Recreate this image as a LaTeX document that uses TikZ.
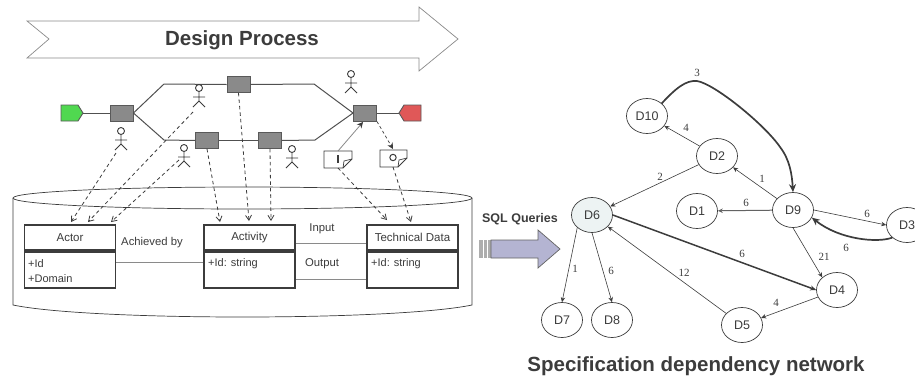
\documentclass[tikz,border=0pt]{standalone}
\usepackage{fontspec}
\setmainfont{Liberation Sans}
\newfontfamily\numfont{Liberation Serif}
\usetikzlibrary{shapes.geometric,arrows.meta}
\definecolor{ink}{HTML}{3C3C3C}
\definecolor{soft}{HTML}{8A8A8A}
\definecolor{startc}{HTML}{50D850}
\definecolor{endc}{HTML}{E05858}
\definecolor{sqlc}{HTML}{B4B4D2}
\definecolor{dsix}{HTML}{EDF3F3}
\tikzset{
  task/.style={draw=ink!85,fill=soft,line width=.9pt,minimum width=23pt,minimum height=16pt,inner sep=0pt},
  flow/.style={draw=ink!90,line width=1pt},
  dep/.style={draw=ink,line width=.8pt,dashed,dash pattern=on 3.5pt off 3pt,-{Straight Barb[length=5pt,width=6pt]}},
  umlhead/.style={draw=ink,line width=1.7pt,fill=white,minimum width=91pt,minimum height=24.5pt,inner sep=0pt,font=\fontsize{11.5}{13}\selectfont,text=ink},
  umlbody/.style={draw=ink,line width=1.7pt,fill=white,minimum width=91pt,minimum height=36pt,inner sep=0pt},
  umltext/.style={anchor=west,inner sep=0pt,font=\fontsize{11}{13}\selectfont,text=ink},
  assoc/.style={draw=soft,line width=1pt},
  lab/.style={inner sep=0pt,font=\fontsize{11.3}{13}\selectfont,text=ink},
  dn/.style={draw=ink,line width=.7pt,fill=white,shape=ellipse,minimum width=41pt,minimum height=35pt,inner sep=0pt,font=\fontsize{12.5}{14}\selectfont,text=ink},
  edge/.style={draw=ink,line width=.6pt,-{Stealth[length=5pt,width=4.5pt]}},
  heavy/.style={draw=ink,line width=1.7pt,-{Stealth[length=8pt,width=7pt]}},
  num/.style={inner sep=0pt,font=\numfont\fontsize{11}{13}\selectfont,text=ink},
  actorline/.style={draw=ink,line width=.9pt}
}
\newcommand{\actorfig}[2]{%
  \draw[actorline] (#1,#2) circle (3.5pt);
  \draw[actorline] (#1,#2+3.5) -- (#1,#2+13) (#1-6,#2+9) -- (#1+6,#2+9)
    (#1-6,#2+19) -- (#1,#2+13) -- (#1+6,#2+19);
}
\begin{document}
\begin{tikzpicture}[x=1pt,y=-1pt]
\useasboundingbox (0,0) rectangle (915,378);
% banner
\draw[draw=soft,line width=.7pt,fill=white] (27,21) -- (419,21) -- (419,7) -- (458,39) -- (419,71) -- (419,58) -- (27,58) -- (49,39) -- cycle;
\node[inner sep=0pt,font=\bfseries\fontsize{20.5}{24}\selectfont,text=ink] (designtitle) at (242,40) {Design Process};
% cylinder
\draw[draw=ink,line width=.7pt,fill=white] (13,198) -- (13,305) .. controls (90,321) and (395,321) .. (472,305) -- (472,198);
\draw[draw=ink,line width=.7pt,fill=white] (242.5,198) ellipse (229.5pt and 11pt);
% process
\node[inner sep=0pt,minimum width=22pt,minimum height=16pt] (startn) at (72,113) {};
\draw[draw=ink!85,fill=startc,line width=.9pt] (61,105) -- (78,105) -- (83,113) -- (78,121) -- (61,121) -- cycle;
\node[inner sep=0pt,minimum width=22pt,minimum height=16pt] (endn) at (410,113) {};
\draw[draw=ink!85,fill=endc,line width=.9pt] (421,105) -- (404,105) -- (399,113) -- (404,121) -- (421,121) -- cycle;
\node[task] (t1) at (121.5,113) {};
\node[task] (t2) at (238.5,84.5) {};
\node[task] (t3) at (207,140.5) {};
\node[task] (t4) at (270,140.5) {};
\node[task] (t5) at (365,113) {};
\coordinate (ua) at (164,84); \coordinate (ub) at (314,84);
\coordinate (la) at (164,140); \coordinate (lb) at (315,140);
\draw[flow] (startn.east) -- (t1.west);
\draw[flow] (t1.east) -- (ua) -- (t2.west);
\draw[flow] (t2.east) -- (ub) -- (t5.west);
\draw[flow] (t1.east) -- (la) -- (t3.west);
\draw[flow] (t3.east) -- (t4.west);
\draw[flow] (t4.east) -- (lb) -- (t5.west);
\draw[flow] (t5.east) -- (endn.west);
% actors
\actorfig{121}{131}
\actorfig{199}{88}
\actorfig{184}{148}
\actorfig{292}{149}
\actorfig{351}{74}
\coordinate (a1) at (116,153); \coordinate (a2) at (193,112); \coordinate (a3) at (179,160);
% documents
\draw[draw=ink,line width=.9pt,fill=white] (324,151) -- (352,151) -- (352,159) -- (343,168) -- (324,168) -- cycle;
\draw[draw=ink,line width=.7pt] (352,159) -- (344,161) -- (343,168);
\fill[fill=ink] (336.5,155) rectangle (338.5,163);
\coordinate (docia) at (338,151); \coordinate (docib) at (338,168);
\draw[draw=ink,line width=.9pt,fill=white] (380,150) -- (407,150) -- (407,158) -- (398,167) -- (380,167) -- cycle;
\draw[draw=ink,line width=.7pt] (407,158) -- (399,160) -- (398,167);
\draw[draw=ink,line width=1pt] (393,157.5) circle (3.2pt);
\coordinate (docoa) at (393,149); \coordinate (docob) at (393,167);
\coordinate (t5in) at (363,122);
\draw[draw=soft,line width=.8pt,-{Stealth[length=6pt,width=6pt,color=ink]}] (docia) -- (t5in);
\draw[draw=ink,line width=.7pt,dashed,dash pattern=on 3pt off 2.5pt,-{Stealth[length=6pt,width=6pt]}] (t5.south east) -- (docoa);
% uml
\node[umlbody] (actorB) at (70,270) {};
\node[umlhead] (actorT) at (70,237.5) {Actor};
\node[umlbody] (actvB) at (249.5,270) {};
\node[umlhead] (actvT) at (249.5,237.5) {Activity};
\node[umlbody] (techB) at (412.5,270) {};
\node[umlhead] (techT) at (412.5,237.5) {Technical Data};
\node[umltext] (f1) at (28,263.5) {+Id};
\node[umltext] (f2) at (28,279) {+Domain};
\node[umltext] (f3) at (208,263.5) {+Id: string};
\node[umltext] (f4) at (371,263.5) {+Id: string};
\draw[assoc] ([yshift=8pt]actorB.east) -- ([yshift=8pt]actvB.west);
\draw[assoc] ([yshift=-5.5pt]actvT.east) -- ([yshift=-5.5pt]techT.west);
\draw[assoc] ([yshift=-9pt]actvB.east) -- ([yshift=-9pt]techB.west);
\node[lab] (achv) at (152,243) {Achieved by};
\node[lab] (inp) at (322,229) {Input};
\node[lab] (outp) at (322,264) {Output};
% dashed links
\coordinate (p1) at (71,222); \coordinate (p2) at (88,222); \coordinate (p3) at (111,222);
\coordinate (p4) at (220,222); \coordinate (p5) at (249,221); \coordinate (p6) at (271,221);
\coordinate (p7) at (387,220); \coordinate (p8) at (411,222);
\draw[dep] (a1) -- (p1);
\draw[dep] (a2) -- (p2);
\draw[dep] (a3) -- (p3);
\draw[dep] (t3.south) -- (p4);
\draw[dep] (t2.south) -- (p5);
\draw[dep] (t4.south) -- (p6);
\draw[dep] (docib) -- (p7);
\draw[dep] (docob) -- (p8);
% SQL arrow
\node[inner sep=0pt,font=\bfseries\fontsize{12.5}{14}\selectfont,text=ink] (sql) at (520,219) {SQL Queries};
\fill[fill=soft!70] (479,240) rectangle (493,258);
\draw[draw=white,line width=.8pt] (483,240) -- (483,258) (487,240) -- (487,258);
\draw[draw=ink!80,line width=.7pt,fill=sqlc] (491,240) -- (538,240) -- (538,230) -- (560,249) -- (538,268) -- (538,258) -- (491,258) -- cycle;
% network
\node[dn] (d10) at (647,116) {D10};
\node[dn] (d2) at (717,156) {D2};
\node[dn,fill=dsix] (d6) at (592,215) {D6};
\node[dn] (d1) at (697,211) {D1};
\node[dn] (d9) at (793,210) {D9};
\node[dn] (d3) at (907,225) {D3};
\node[dn] (d4) at (837,290) {D4};
\node[dn] (d5) at (742,325) {D5};
\node[dn] (d7) at (562,320) {D7};
\node[dn] (d8) at (612,320) {D8};
\draw[edge] (d2) -- (d10);
\draw[edge] (d2) -- (d6);
\draw[edge] (d9) -- (d2);
\draw[edge,draw=ink!80,line width=1pt] (d9) -- (d1);
\draw[edge] (d9.east) -- (d3.west);
\draw[edge] (d9.south) -- (d4.north west);
\draw[edge] (d4) -- (d5);
\draw[edge] (d5) -- (d6);
\draw[edge] (d6.south west) -- (d7.north);
\draw[edge] (d6.south) -- (d8.north);
\draw[heavy,line width=1.5pt,-{Stealth[length=6pt,width=5pt]}] (d6.east) -- (d4.west);
\draw[heavy] (d10.north east) .. controls (676,88) and (686,80) .. (697,81) .. controls (715,84) and (765,125) .. (780,147) .. controls (790,160) and (792,175) .. (d9.north);
\draw[heavy] (d3.south west) .. controls (878,243) and (840,240) .. (d9.-22);
\node[num] (n1) at (697,73) {3};
\node[num] (n2) at (686,128) {4};
\node[num] (n3) at (660,177) {2};
\node[num] (n4) at (762,179) {1};
\node[num] (n5) at (746,203) {6};
\node[num] (n6) at (867,214) {6};
\node[num] (n7) at (846,248) {6};
\node[num] (n8) at (824,257) {21};
\node[num] (n9) at (742,254) {6};
\node[num] (n10) at (684,273) {12};
\node[num] (n11) at (776,303) {4};
\node[num] (n12) at (575,269) {1};
\node[num] (n13) at (611,271) {6};
\node[inner sep=0pt,font=\bfseries\fontsize{20.5}{24}\selectfont,text=ink] (nettitle) at (696,366) {Specification dependency network};
\end{tikzpicture}
\end{document}
